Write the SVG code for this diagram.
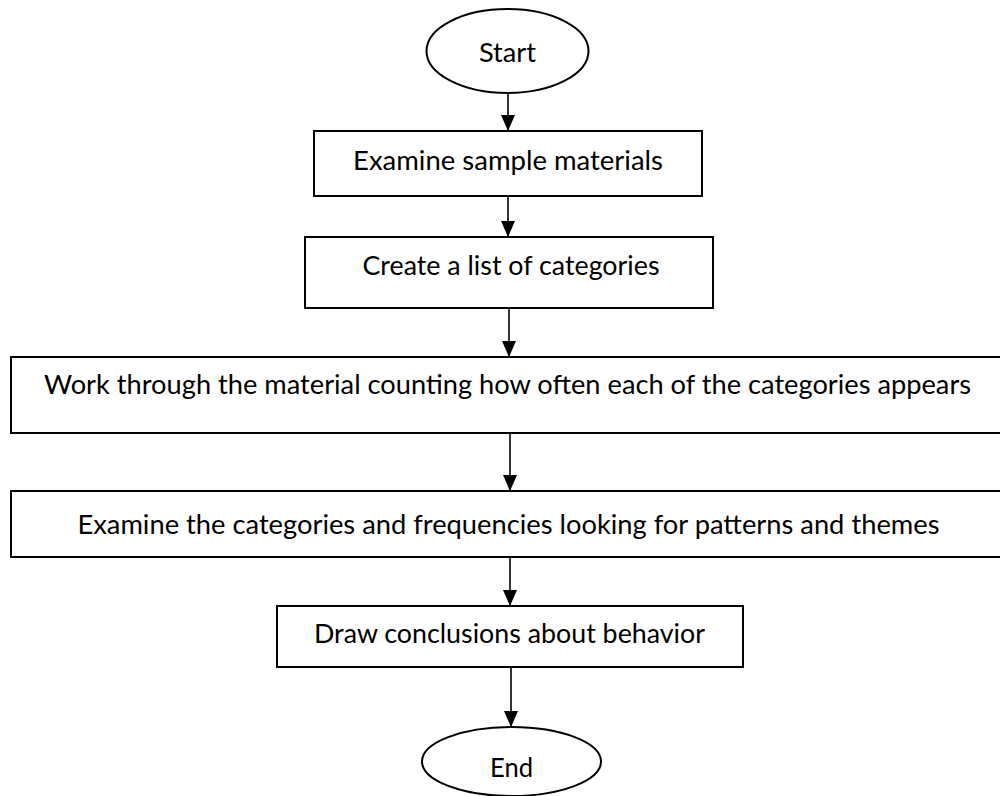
<svg xmlns="http://www.w3.org/2000/svg" width="1000" height="796" viewBox="0 0 1000 796">
  <style>
    .shape { fill: #ffffff; stroke: #000000; stroke-width: 2; }
    .label { font-family: Lato, "Open Sans", "Liberation Sans", sans-serif; font-size: 26.5px; fill: #000000; text-anchor: middle; }
    .edge { stroke: #000000; stroke-width: 1.6; fill: none; marker-end: url(#arrow); }
  </style>
  <defs>
    <marker id="arrow" markerWidth="16" markerHeight="14" refX="16" refY="7" orient="auto" markerUnits="userSpaceOnUse">
      <path d="M0,0 L16,7 L0,14 Z" fill="#000000"/>
    </marker>
  </defs>
  <rect width="1000" height="796" fill="#ffffff"/>

  <g id="connectors">
    <line class="edge" x1="508" y1="93" x2="508" y2="131"/>
    <line class="edge" x1="508" y1="196" x2="508" y2="237"/>
    <line class="edge" x1="509" y1="308" x2="509" y2="357"/>
    <line class="edge" x1="510" y1="433" x2="510" y2="491"/>
    <line class="edge" x1="510" y1="557" x2="510" y2="606"/>
    <line class="edge" x1="511" y1="667" x2="511" y2="727"/>
  </g>

  <g id="start">
    <ellipse class="shape" cx="507.5" cy="51" rx="81" ry="42"/>
    <text class="label" x="507.5" y="62" textLength="57" lengthAdjust="spacingAndGlyphs">Start</text>
  </g>

  <g id="examine-samples">
    <rect class="shape" x="314" y="131" width="388" height="65"/>
    <text class="label" x="508" y="170" textLength="310" lengthAdjust="spacingAndGlyphs">Examine sample materials</text>
  </g>

  <g id="list-categories">
    <rect class="shape" x="305" y="237" width="408" height="71"/>
    <text class="label" x="511" y="275" textLength="297" lengthAdjust="spacingAndGlyphs">Create a list of categories</text>
  </g>

  <g id="count-categories">
    <rect class="shape" x="11" y="357" width="1000" height="76"/>
    <text class="label" x="507.5" y="394" textLength="927" lengthAdjust="spacingAndGlyphs">Work through the material counting how often each of the categories appears</text>
  </g>

  <g id="find-patterns">
    <rect class="shape" x="11" y="491" width="1000" height="66"/>
    <text class="label" x="508.5" y="534" textLength="862" lengthAdjust="spacingAndGlyphs">Examine the categories and frequencies looking for patterns and themes</text>
  </g>

  <g id="conclusions">
    <rect class="shape" x="277" y="606" width="466" height="61"/>
    <text class="label" x="509.5" y="643" textLength="391" lengthAdjust="spacingAndGlyphs">Draw conclusions about behavior</text>
  </g>

  <g id="end">
    <ellipse class="shape" cx="511.5" cy="761.5" rx="89.5" ry="34.5"/>
    <text class="label" x="511.5" y="777" textLength="43" lengthAdjust="spacingAndGlyphs">End</text>
  </g>
</svg>
